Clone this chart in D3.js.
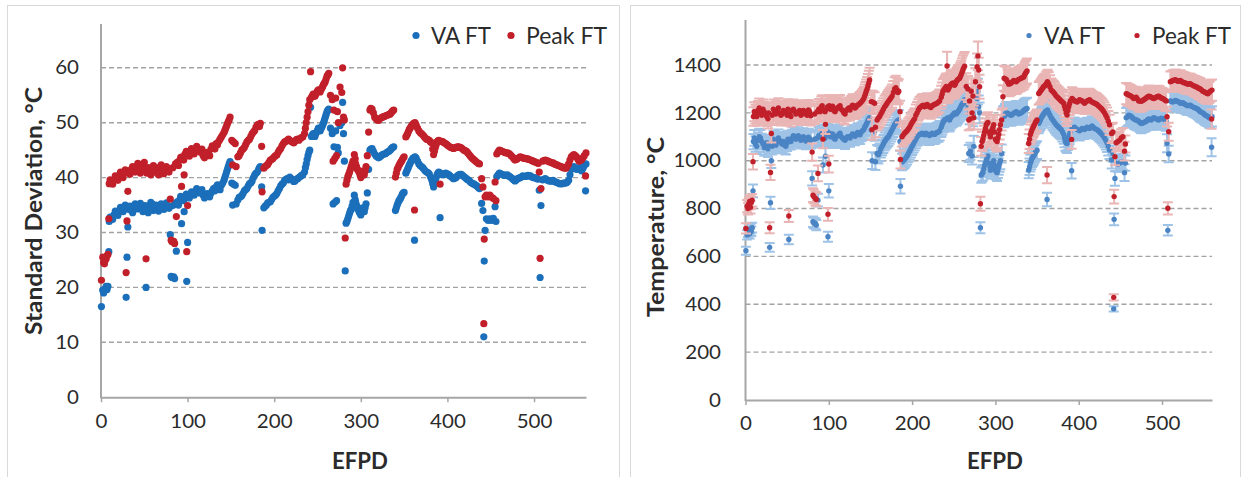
<!DOCTYPE html>
<html><head><meta charset="utf-8">
<script src="https://cdn.jsdelivr.net/npm/d3@7"></script>
<style>
body{margin:0;background:#fff}
svg{display:block}
text{font-family:Lato,"Open Sans",sans-serif;fill:#2b2b2b}
</style></head>
<body><svg id="chart" width="1244" height="477"></svg>
<script>
// ---------------- data ----------------
const efpd = [0.5,2,3,4,5,6,7,8,9,9.5,12,15,18,21,24,27,29,30,31,32,35,38,41,44,47,50,52,53,56,59,62,65,68,71,74,77,80,81,82,83,84,85,86,87,88,91,93,94,96,97,99,100,100.5,103,106,109,112,115,118,121,124,127,130,133,136,139,142,144,146,148,149,151,152,153,155,156,158,161,164,167,170,173,176,179,182,184,185.5,186,188,191,194,197,200,203,206,209,212,215,218,221,224,227,230,233,235,237,239,241,242,243,245,247,249,251,253,255,257,259,261,263,265,267,268,269,270,271,272,273,274,276,278,279,280,281,282,283,285,287,289,291,292.5,294,296,298,300,302,304,306,307.5,309,310.5,313,316,319,322,325,328,331,334,336,338,340,342,344,346,348,350,352,354,356,358,360,362,362.5,364,367,370,373,376,379,382,384,386,388,390,391.5,392,395,398,401,404,407,410,413,416,419,422,425,428,431,434,437,439.5,441,442,442.5,443.5,445,447,449,451,453,455,456,457,460,463,466,469,472,475,478,481,484,487,490,493,496,499,502,505,506,507,508,510,513,516,519,522,525,528,531,534,537,540,543,546,549,552,555,558,559.5,560,
 10.5,13.5,16.5,19.5,22.5,25.5,28,33.5,36.5,39.5,42.5,45.5,48.5,51,54.5,57.5,60.5,63.5,66.5,69.5,72.5,75.5,78.5,
 89.5,92,95.5,98.5,102,104.5,107.5,110.5,113.5,116.5,119.5,122.5,125.5,128.5,131.5,134.5,137.5,140.5,143,145,147,
 159.5,162.5,165.5,168.5,171.5,174.5,177.5,180.5,183,
 189.5,192.5,195.5,198.5,201.5,204.5,207.5,210.5,213.5,216.5,219.5,222.5,225.5,228.5,231.5,
 236,238,240,244,246,248,250,252,254,256,258,260,262,
 284,286,288,290,293.5,295,297,299,301,303,305,
 311.5,314.5,317.5,320.5,323.5,326.5,329.5,332.5,335,337,
 341,343,345,347,349,
 353,355,357,359,361,363,365.5,368.5,371.5,374.5,377.5,380.5,383,385,387,389,
 393.5,396.5,399.5,402.5,405.5,408.5,411.5,414.5,417.5,420.5,423.5,426.5,429.5,432.5,435.5,
 458.5,461.5,464.5,467.5,470.5,473.5,476.5,479.5,482.5,485.5,488.5,491.5,494.5,497.5,500.5,503.5,
 511.5,514.5,517.5,520.5,523.5,526.5,529.5,532.5,535.5,538.5,541.5,544.5,547.5,550.5,553.5,556.5];
const vaSD = [16.5,19.5,19.0,19.5,19.8,20.2,19.6,20.2,26.5,32.0,32.6,33.2,33.6,33.9,34.4,34.7,18.2,25.5,31.0,34.2,34.0,34.5,34.8,35.0,34.6,34.2,20.0,34.0,34.8,35.2,34.5,34.3,34.6,34.8,35.0,34.7,29.6,22.0,21.8,34.9,21.9,21.6,35.3,26.6,35.6,36.0,31.6,36.2,33.8,36.5,21.1,28.2,36.5,36.8,37.2,37.5,37.7,37.3,36.8,36.6,36.8,37.2,38.0,38.3,38.2,38.6,39.5,40.5,41.5,42.5,42.9,39.0,35.0,38.8,38.6,35.2,35.9,36.5,37.1,37.8,38.5,39.0,40.0,40.8,41.5,42.0,38.3,30.4,34.5,35.0,35.5,36.0,36.6,37.1,38.0,38.8,39.5,39.8,40.1,39.6,39.4,39.8,40.2,40.5,41.0,42.5,44.0,45.0,52.8,47.5,48.0,47.5,48.3,49.0,48.5,49.2,50.0,51.0,52.0,52.5,49.0,48.0,35.2,45.6,35.5,48.5,35.8,45.5,44.5,49.5,50.0,53.7,48.0,43.0,23.0,31.7,32.5,33.5,34.2,35.5,36.8,35.5,34.5,33.8,33.2,34.5,33.8,35.2,37.2,41.5,45.0,45.3,44.3,43.8,43.8,44.2,44.3,44.7,45.0,45.4,45.6,34.0,35.0,35.8,36.3,37.0,37.3,40.8,41.5,42.3,43.0,43.5,28.6,43.8,43.5,42.5,42.0,41.5,41.0,40.7,39.5,38.3,39.5,40.5,41.0,32.7,40.8,40.5,40.8,40.6,40.2,39.8,40.0,40.5,40.6,40.2,39.8,39.5,39.0,38.8,38.5,38.0,35.3,34.0,11.0,24.8,30.4,32.5,32.2,32.5,32.2,32.6,34.7,32.0,40.2,40.8,40.6,40.4,40.5,40.2,39.8,39.4,39.8,40.0,40.3,40.2,40.4,40.3,40.0,39.9,39.7,37.7,21.8,34.9,39.6,39.8,39.5,39.4,39.5,39.2,39.0,38.9,39.0,39.0,39.5,41.5,42.0,41.5,41.8,41.2,42.2,37.6,42.5,
 32.8,32.4,33.9,33.1,34.6,33.8,35.0,34.8,33.6,35.2,34.3,35.3,33.8,34.9,33.6,35.5,34.0,35.0,33.9,35.2,34.2,35.4,34.4,
 35.0,36.6,35.8,37.0,36.3,37.4,36.8,38.0,37.2,37.8,36.3,37.1,36.5,37.6,37.6,38.7,37.8,39.0,40.0,41.0,42.0,
 36.4,36.7,37.6,38.0,38.9,39.4,40.5,41.0,41.8,
 34.8,35.4,35.6,36.4,36.8,37.6,38.5,39.0,39.7,39.6,39.8,39.3,39.7,40.0,40.4,
 41.8,43.3,44.6,47.8,47.8,48.0,48.6,48.8,48.9,49.6,50.5,51.5,52.3,
 32.0,33.0,34.0,34.8,36.0,35.0,34.2,33.5,33.9,34.2,34.5,
 45.2,44.8,44.0,43.6,44.0,44.3,44.5,44.8,45.2,45.5,
 34.5,35.4,36.0,36.6,37.2,
 41.2,41.9,42.6,43.2,43.6,43.7,43.0,42.2,41.8,41.2,40.9,40.1,38.9,38.9,40.0,40.8,
 40.6,40.7,40.7,40.4,40.0,39.9,40.3,40.6,40.4,40.0,39.6,39.2,38.9,38.6,38.2,
 40.5,40.7,40.5,40.4,40.3,40.0,39.6,39.6,39.9,40.1,40.2,40.3,40.3,40.1,40.0,39.8,
 39.7,39.6,39.4,39.4,39.3,39.1,38.9,38.9,39.0,39.2,40.5,41.8,41.7,41.6,41.5,41.7];
const peakSD = [21.3,25.5,24.5,24.3,25.0,25.2,25.8,26.0,32.5,38.9,39.3,39.6,40.0,40.4,40.6,40.8,22.7,32.1,37.5,41.2,41.5,41.8,42.0,42.3,41.4,42.8,25.2,40.8,41.0,41.6,41.2,40.8,41.4,41.7,41.2,41.6,36.1,28.6,28.3,41.8,28.4,28.0,42.5,32.9,42.8,43.2,38.4,43.8,40.5,44.3,26.5,34.9,44.5,44.4,44.8,45.2,45.2,44.6,44.0,44.2,44.5,45.2,45.6,46.2,46.6,47.4,48.2,49.0,49.8,50.5,51.0,46.8,42.3,46.5,46.2,42.0,43.8,44.5,45.2,46.0,46.8,47.5,48.3,49.2,49.7,49.9,45.7,37.4,41.7,42.2,42.8,43.3,43.8,44.1,45.0,45.8,46.5,46.8,46.8,46.5,46.6,47.0,47.1,47.4,48.0,50.0,52.0,54.2,59.3,54.6,55.2,54.8,55.5,56.0,55.6,56.3,57.0,57.5,58.5,59.0,55.0,54.2,43.0,52.3,43.5,54.5,44.0,52.0,50.0,56.5,55.5,60.0,51.0,50.5,29.0,38.8,40.2,41.0,42.0,43.0,44.2,42.5,41.5,41.0,40.0,41.2,40.5,42.0,44.0,48.3,52.3,52.5,51.0,50.5,50.7,51.0,51.2,51.4,51.6,52.0,52.3,40.1,41.5,42.2,42.8,43.3,43.8,47.4,48.0,48.8,49.3,49.7,34.1,50.0,49.5,48.5,48.0,47.5,47.0,46.8,46.3,44.2,45.5,46.5,46.8,38.8,46.6,46.5,46.2,45.8,45.5,45.3,45.5,45.6,45.4,45.0,44.8,44.2,43.6,43.2,42.8,42.5,39.8,38.3,13.4,28.8,36.5,36.8,36.5,36.8,36.4,36.2,39.2,35.8,44.3,45.0,44.8,44.6,44.5,44.3,43.8,43.2,43.5,43.8,43.6,43.5,43.4,43.2,43.0,42.8,42.6,41.0,25.3,38.0,43.0,43.2,43.0,42.8,42.7,42.4,42.2,42.0,41.8,41.7,42.5,43.8,44.2,43.8,43.0,43.3,44.0,40.3,44.5,
 39.6,38.8,40.3,39.5,41.0,40.0,41.4,40.6,42.0,41.0,42.6,40.8,42.0,41.3,41.8,40.5,42.2,41.8,40.5,42.3,40.7,42.0,41.0,
 42.2,43.7,43.2,44.8,43.9,45.3,44.3,45.7,44.8,45.2,43.6,44.6,44.0,45.8,45.2,46.0,47.0,47.8,48.6,49.4,50.2,
 44.0,45.0,45.5,46.5,47.0,48.0,48.6,49.6,49.3,
 42.0,42.4,43.2,43.5,44.0,44.6,45.3,46.2,46.6,47.0,46.6,46.3,46.9,46.8,47.3,
 49.0,51.0,53.2,54.9,55.0,55.2,55.8,55.8,56.0,56.6,57.2,58.0,58.7,
 39.5,40.6,41.5,42.5,43.4,42.0,41.3,40.5,40.6,40.8,41.2,
 52.6,51.8,50.7,50.4,50.9,51.1,51.3,51.5,51.8,52.2,
 40.8,41.8,42.5,43.0,43.6,
 47.7,48.4,49.0,49.5,49.9,49.8,49.0,48.2,47.8,47.2,46.9,46.5,45.2,44.8,46.0,46.7,
 46.6,46.3,46.0,45.6,45.4,45.4,45.6,45.5,45.2,44.9,44.5,43.9,43.4,43.0,42.6,
 44.7,44.9,44.7,44.5,44.4,44.0,43.5,43.3,43.6,43.7,43.5,43.4,43.3,43.1,42.9,42.7,
 43.1,43.1,42.9,42.7,42.5,42.3,42.1,41.9,41.7,42.1,43.2,44.0,44.0,43.4,43.1,43.6];
const vaT = [624,690,700,710,695,715,705,720,874,1080,1070,1085,1095,1070,1060,1050,638,824,1000,1060,1075,1080,1085,1070,1065,1075,671,1085,1095,1100,1098,1095,1092,1090,1088,1092,926,745,740,1090,738,731,1095,835,1105,1110,982,1100,1019,1108,682,874,1115,1105,1095,1100,1110,1100,1090,1095,1100,1105,1110,1108,1115,1120,1130,1145,1160,1175,1180,1128,1000,1125,1122,996,1030,1035,1060,1080,1095,1110,1130,1150,1165,1170,1080,893,995,1005,1020,1040,1060,1080,1100,1110,1115,1108,1112,1105,1115,1110,1118,1125,1140,1160,1170,1175,1265,1180,1170,1185,1190,1200,1195,1205,1215,1230,1240,1255,1240,1220,1030,1198,1040,1230,1020,1190,1060,1226,1260,1289,1225,1200,720,940,950,980,1000,1020,990,960,980,1000,960,950,975,1000,1030,1185,1185,1200,1195,1190,1198,1205,1195,1200,1210,1215,1218,961,990,1010,1020,1035,1044,1156,1170,1185,1195,1205,838,1212,1200,1180,1165,1150,1140,1130,1110,1080,1072,1100,1120,958,1135,1140,1130,1125,1135,1130,1140,1135,1145,1135,1130,1120,1110,1095,1075,1045,1003,1030,381,755,926,990,985,990,995,995,950,990,1180,1190,1185,1175,1170,1165,1155,1160,1165,1175,1170,1180,1175,1170,1178,1175,1165,1073,709,1028,1250,1245,1252,1248,1240,1242,1235,1230,1232,1225,1220,1215,1205,1200,1190,1185,1178,1056,1185,
 1095,1060,1100,1080,1055,1075,1065,1090,1065,1095,1075,1080,1060,1090,1080,1105,1090,1105,1085,1100,1082,1098,1085,
 1100,1115,1095,1120,1100,1112,1090,1105,1115,1095,1085,1100,1095,1112,1102,1118,1108,1125,1140,1152,1168,
 1025,1050,1070,1088,1100,1120,1140,1158,1168,
 1000,1012,1030,1050,1070,1090,1105,1112,1110,1115,1108,1110,1113,1115,1120,
 1150,1165,1172,1175,1178,1188,1195,1198,1200,1210,1222,1235,1248,
 945,965,990,1010,975,970,990,980,955,962,988,
 1192,1198,1192,1194,1202,1200,1198,1205,1212,1216,
 975,1000,1015,1028,1040,
 1163,1178,1190,1200,1208,1206,1190,1172,1158,1145,1135,1120,1095,1075,1085,1110,
 1138,1135,1128,1130,1132,1135,1138,1140,1140,1132,1125,1115,1102,1085,1060,
 1185,1188,1180,1172,1168,1160,1157,1162,1170,1172,1175,1178,1172,1174,1176,1170,
 1248,1248,1250,1244,1241,1238,1232,1231,1228,1222,1218,1210,1202,1195,1188,1180];
const peakT = [717,810,800,820,830,805,825,835,996,1185,1195,1210,1200,1215,1195,1175,720,951,1114,1190,1205,1210,1200,1195,1205,1190,769,1195,1210,1205,1200,1210,1195,1200,1190,1205,1036,856,850,1195,842,838,1205,947,1215,1225,1090,1210,1152,1215,776,986,1230,1220,1210,1215,1225,1215,1200,1210,1220,1225,1230,1225,1235,1245,1260,1280,1300,1325,1337,1247,1130,1245,1240,1140,1170,1185,1205,1225,1240,1255,1270,1300,1295,1290,1205,1005,1100,1115,1125,1140,1160,1175,1200,1220,1230,1225,1235,1225,1230,1235,1240,1250,1265,1290,1300,1310,1396,1295,1310,1320,1325,1315,1330,1340,1345,1360,1380,1395,1310,1300,1170,1250,1175,1290,1200,1270,1180,1330,1393,1438,1379,1309,820,1060,1090,1120,1150,1160,1120,1100,1130,1150,1090,1080,1110,1150,1170,1267,1345,1340,1320,1325,1335,1330,1340,1345,1350,1365,1375,1072,1110,1130,1145,1160,1170,1281,1290,1300,1310,1315,940,1330,1320,1295,1285,1270,1260,1250,1240,1215,1191,1225,1250,1089,1260,1250,1245,1255,1250,1240,1250,1255,1245,1240,1235,1225,1215,1200,1180,1150,1114,1120,429,850,1017,1075,1080,1085,1095,1100,1040,1070,1280,1275,1270,1260,1265,1250,1248,1255,1262,1270,1265,1260,1265,1270,1262,1258,1250,1184,801,1121,1330,1335,1338,1332,1335,1328,1325,1320,1322,1315,1310,1305,1300,1290,1285,1280,1290,1174,1295,
 1205,1185,1220,1190,1205,1185,1200,1215,1195,1220,1190,1210,1200,1215,1185,1215,1195,1205,1190,1210,1195,1212,1188,
 1205,1230,1205,1225,1215,1228,1205,1222,1230,1210,1195,1215,1212,1232,1220,1232,1240,1252,1270,1290,1312,
 1178,1195,1215,1232,1248,1262,1285,1305,1285,
 1108,1120,1133,1150,1168,1190,1212,1225,1232,1228,1230,1222,1233,1238,1245,
 1278,1295,1305,1302,1315,1322,1320,1322,1335,1342,1352,1370,1388,
 1080,1105,1135,1155,1110,1115,1140,1120,1085,1095,1130,
 1342,1330,1322,1330,1332,1335,1342,1348,1358,1370,
 1090,1120,1138,1152,1165,
 1285,1295,1305,1312,1322,1325,1308,1290,1278,1265,1255,1245,1228,1200,1210,1238,
 1255,1248,1250,1252,1245,1245,1252,1250,1243,1238,1230,1220,1208,1190,1165,
 1278,1272,1265,1262,1258,1249,1251,1258,1266,1268,1262,1262,1268,1266,1260,1254,
 1332,1336,1335,1333,1331,1326,1322,1321,1318,1312,1308,1302,1295,1288,1282,1285];
const xTicks = [0,100,200,300,400,500];
const sdTicks = [0,10,20,30,40,50,60];
const tTicks = [0,200,400,600,800,1000,1200,1400];
const seriesNames = ["VA FT","Peak FT"];
const sdTitle = "Standard Deviation, \u00B0C";
const tTitle = "Temperature, \u00B0C";
const xTitle = "EFPD";

// ---------------- drawing ----------------
const svg = d3.select("#chart");
const rows = efpd.map((e,i)=>({e, va:vaSD[i], pk:peakSD[i], vaT:vaT[i], pkT:peakT[i]}));

svg.append("rect").attr("x",7.5).attr("y",5.5).attr("width",612).attr("height",480)
  .attr("fill","none").attr("stroke","#d9d9d9").attr("stroke-width",1);
svg.append("rect").attr("x",630.5).attr("y",5.5).attr("width",610).attr("height",480)
  .attr("fill","none").attr("stroke","#d9d9d9").attr("stroke-width",1);

function panel(cfg){
  const g = svg.append("g");
  const x = d3.scaleLinear().domain([0,560]).range(cfg.xr);
  const y = d3.scaleLinear().domain(cfg.yd).range(cfg.yr);
  g.selectAll(".grid").data(cfg.yt.filter(v=>v>0)).join("line")
    .attr("x1",cfg.xr[0]).attr("x2",cfg.xr[1])
    .attr("y1",d=>y(d)).attr("y2",d=>y(d))
    .attr("stroke","#a3a3a3").attr("stroke-width",1.4).attr("stroke-dasharray","5,3");
  const xa = g.append("g").attr("transform",`translate(0,${y(0)})`)
    .call(d3.axisBottom(x).tickValues(xTicks).tickSize(5).tickSizeOuter(0).tickPadding(12));
  xa.select(".domain").attr("stroke","#a6a6a6").attr("stroke-width",2);
  xa.selectAll(".tick line").attr("stroke","#a6a6a6").attr("stroke-width",1.5);
  xa.selectAll(".tick text").attr("font-size",18.5).attr("fill","#2b2b2b")
    .attr("font-family","Lato").attr("dy","0.72em")
    .attr("textLength",d=>String(d).length*11.9).attr("lengthAdjust","spacingAndGlyphs");
  g.append("line").attr("x1",cfg.xr[0]).attr("x2",cfg.xr[0])
    .attr("y1",y(0)+1).attr("y2",cfg.yr[1]).attr("stroke","#a6a6a6").attr("stroke-width",2);
  g.selectAll(".yl").data(cfg.yt).join("text")
    .attr("x",cfg.ylx).attr("y",d=>y(d)).attr("dy","0.36em")
    .attr("text-anchor","end").attr("font-size",18.5)
    .attr("textLength",d=>String(d).length*11.9).attr("lengthAdjust","spacingAndGlyphs")
    .text(d=>d);
  g.append("text").attr("x",cfg.xtx).attr("y",469).attr("text-anchor","middle")
    .attr("font-size",22).attr("font-weight","bold")
    .attr("textLength",56).attr("lengthAdjust","spacingAndGlyphs").text(xTitle);
  g.append("text").attr("transform",`translate(${cfg.ytc[0]+8},${cfg.ytc[1]}) rotate(-90)`)
    .attr("text-anchor","middle").attr("font-size",22).attr("font-weight","bold")
    .attr("textLength",cfg.ytLen).attr("lengthAdjust","spacingAndGlyphs").text(cfg.title);
  const series = [
    {key:"va", tkey:"vaT", color:cfg.blue, bar:cfg.blueBar},
    {key:"pk", tkey:"pkT", color:cfg.red, bar:cfg.redBar}
  ];
  series.forEach(s=>{
    const vk = cfg.temp ? s.tkey : s.key;
    if(cfg.temp){
      g.append("g").selectAll("path").data(rows).join("path")
        .attr("d",d=>{
          const xx=x(d.e), y1=y(d[s.tkey]-d[s.key]), y2=y(d[s.tkey]+d[s.key]);
          return `M${xx},${y1}V${y2}M${xx-5},${y1}H${xx+5}M${xx-5},${y2}H${xx+5}`;
        })
        .attr("stroke",s.bar).attr("stroke-width",2).attr("fill","none");
    }
    g.append("g").selectAll("circle").data(rows).join("circle")
      .attr("cx",d=>x(d.e)).attr("cy",d=>y(d[vk])).attr("r",cfg.r).attr("fill",s.color);
  });
  seriesNames.forEach((n,i)=>{
    const c = i===0?cfg.blue:cfg.red;
    g.append("circle").attr("cx",cfg.lgDot[i]).attr("cy",35.5).attr("r",cfg.lgR).attr("fill",c);
    g.append("text").attr("x",cfg.lgTx[i]).attr("y",43.5).attr("font-size",23)
      .attr("textLength",cfg.lgLen[i]).attr("lengthAdjust","spacingAndGlyphs").text(n);
  });
}

panel({xr:[101,586], yd:[0,68], yr:[397.2,397.2-68*5.49], yt:sdTicks, ylx:79,
  xtx:360, ytc:[33.7,211], ytLen:248, title:sdTitle, temp:false, r:3.6,
  blue:"#1b6fba", red:"#c1202b", lgDot:[416,511], lgTx:[431,526], lgLen:[60,81], lgR:3.6});
panel({xr:[745.5,1212], yd:[0,1588], yr:[400,20], yt:tTicks, ylx:721,
  xtx:995, ytc:[655.7,227], ytLen:180, title:tTitle, temp:true, r:2.7,
  blue:"#4a84c4", red:"#c1202b", blueBar:"#9fc3e6", redBar:"#e9b5b5",
  lgDot:[1029,1137], lgTx:[1044,1152], lgLen:[61,79], lgR:2.6});
</script></body></html>
